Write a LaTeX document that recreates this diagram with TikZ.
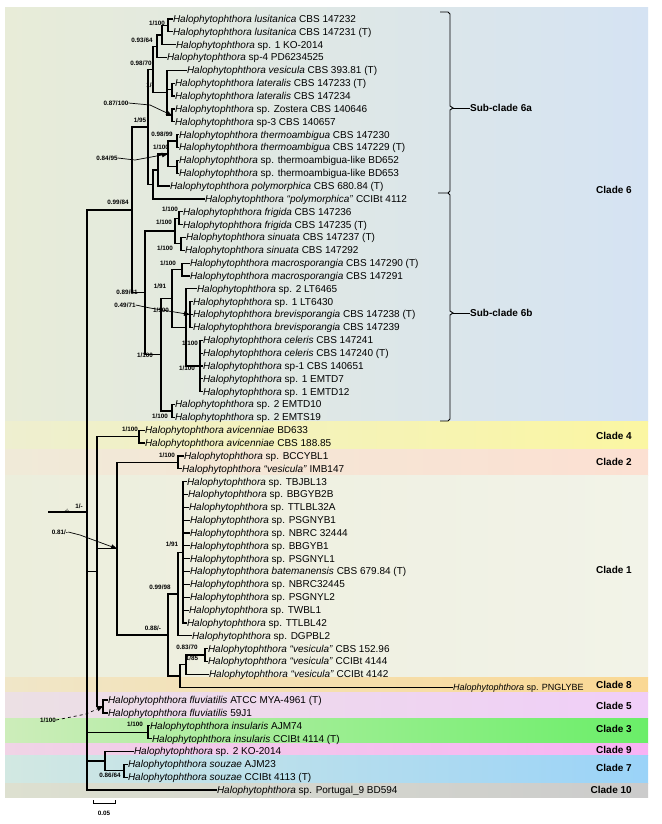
\documentclass[tikz,border=0pt]{standalone}
\usepackage{fontspec}
\setmainfont{Liberation Sans}
\usetikzlibrary{arrows.meta}
\definecolor{c6l}{HTML}{E8ECD8}\definecolor{c6r}{HTML}{D5E3F3}
\definecolor{c4l}{HTML}{EEEFD0}\definecolor{c4r}{HTML}{FBF6A2}
\definecolor{c2l}{HTML}{F0EAD8}\definecolor{c2r}{HTML}{FCE0D2}
\definecolor{c1l}{HTML}{ECEEDC}\definecolor{c1r}{HTML}{F2F3E8}
\definecolor{c8l}{HTML}{F0E6C8}\definecolor{c8r}{HTML}{FAD894}
\definecolor{c5l}{HTML}{ECE0E4}\definecolor{c5r}{HTML}{F0CEF8}
\definecolor{c3l}{HTML}{CDEDBA}\definecolor{c3r}{HTML}{6AEE68}
\definecolor{c9l}{HTML}{F0D4E6}\definecolor{c9r}{HTML}{F8B2F4}
\definecolor{c7l}{HTML}{D2E8E2}\definecolor{c7r}{HTML}{9AD3F8}
\definecolor{c10l}{HTML}{DDE0D0}\definecolor{c10r}{HTML}{CBCBCB}
\newcommand{\Hal}{\textit{Halophytophthora}}
\newcommand{\lf}[4]{\node[leaf] (#1) at (#2,{19+12.85*#3}) {#4};}
\newcommand{\E}[2]{\draw[br] (#1) |- (#2);}
\newcommand{\EL}[2]{\draw[br] (#1) |- (#2.west);}
\begin{document}
\begin{tikzpicture}[x=1pt,y=-1pt,
  br/.style={line width=1.2pt,line cap=rect},
  leaf/.style={anchor=west,inner sep=0.8pt,font=\fontsize{10}{12}\selectfont,text height=7.2pt,text depth=0.4pt},
  sup/.style={font=\bfseries\fontsize{6.3}{7}\selectfont,inner sep=0pt},
  cl/.style={font=\bfseries\fontsize{10}{12}\selectfont,anchor=east,inner sep=0pt},
  lead/.style={line width=0.7pt,-{Triangle[length=6pt,width=4.5pt]}},
  brace/.style={line width=0.9pt}]
\useasboundingbox (0,0) rectangle (661,824);
\fill[white] (0,0) rectangle (661,824);
% bands
\shade[left color=c6l,right color=c6r] (5,8) rectangle (648,421);
\shade[left color=c4l,right color=c4r] (5,421) rectangle (648,449);
\shade[left color=c2l,right color=c2r] (5,449) rectangle (648,475);
\shade[left color=c1l,right color=c1r] (5,475) rectangle (648,677);
\shade[left color=c8l,right color=c8r] (5,677) rectangle (648,692);
\shade[left color=c5l,right color=c5r] (5,692) rectangle (648,718);
\shade[left color=c3l,right color=c3r] (5,718) rectangle (648,743);
\shade[left color=c9l,right color=c9r] (5,743) rectangle (648,755);
\shade[left color=c7l,right color=c7r] (5,755) rectangle (648,783);
\shade[left color=c10l,right color=c10r] (5,783) rectangle (648,797);
% leaves
\lf{l0}{172}{0}{\textit{Halophytophthora lusitanica} CBS 147232}
\lf{l1}{172}{1}{\textit{Halophytophthora lusitanica} CBS 147231 (T)}
\lf{l2}{175}{2}{\Hal{} sp. 1 KO-2014}
\lf{l3}{166}{3}{\Hal{} sp-4 PD6234525}
\lf{l4}{186}{4}{\textit{Halophytophthora vesicula} CBS 393.81 (T)}
\lf{l5}{174}{5}{\textit{Halophytophthora lateralis} CBS 147233 (T)}
\lf{l6}{174}{6}{\textit{Halophytophthora lateralis} CBS 147234}
\lf{l7}{174}{7}{\Hal{} sp. Zostera CBS 140646}
\lf{l8}{174}{8}{\Hal{} sp-3 CBS 140657}
\lf{l9}{178}{9}{\textit{Halophytophthora thermoambigua} CBS 147230}
\lf{l10}{178}{10}{\textit{Halophytophthora thermoambigua} CBS 147229 (T)}
\lf{l11}{178}{11}{\Hal{} sp. thermoambigua-like BD652}
\lf{l12}{178}{12}{\Hal{} sp. thermoambigua-like BD653}
\lf{l13}{169}{13}{\textit{Halophytophthora polymorphica} CBS 680.84 (T)}
\lf{l14}{204}{14}{\textit{Halophytophthora “polymorphica”} CCIBt 4112}
\lf{l15}{182}{15}{\textit{Halophytophthora frigida} CBS 147236}
\lf{l16}{182}{16}{\textit{Halophytophthora frigida} CBS 147235 (T)}
\lf{l17}{185}{17}{\textit{Halophytophthora sinuata} CBS 147237 (T)}
\lf{l18}{184}{18}{\textit{Halophytophthora sinuata} CBS 147292}
\lf{l19}{189}{19}{\textit{Halophytophthora macrosporangia} CBS 147290 (T)}
\lf{l20}{189}{20}{\textit{Halophytophthora macrosporangia} CBS 147291}
\lf{l21}{196}{21}{\Hal{} sp. 2 LT6465}
\lf{l22}{192}{22}{\Hal{} sp. 1 LT6430}
\lf{l23}{192}{23}{\textit{Halophytophthora brevisporangia} CBS 147238 (T)}
\lf{l24}{192}{24}{\textit{Halophytophthora brevisporangia} CBS 147239}
\lf{l25}{202}{25}{\textit{Halophytophthora celeris} CBS 147241}
\lf{l26}{202}{26}{\textit{Halophytophthora celeris} CBS 147240 (T)}
\lf{l27}{202}{27}{\Hal{} sp-1 CBS 140651}
\lf{l28}{202}{28}{\Hal{} sp. 1 EMTD7}
\lf{l29}{202}{29}{\Hal{} sp. 1 EMTD12}
\lf{l30}{174}{30}{\Hal{} sp. 2 EMTD10}
\lf{l31}{174}{31}{\Hal{} sp. 2 EMTS19}
\lf{l32}{144}{32}{\textit{Halophytophthora avicenniae} BD633}
\lf{l33}{144}{33}{\textit{Halophytophthora avicenniae} CBS 188.85}
\lf{l34}{183}{34}{\Hal{} sp. BCCYBL1}
\lf{l35}{181}{35}{\textit{Halophytophthora “vesicula”} IMB147}
\lf{l36}{186}{36}{\Hal{} sp. TBJBL13}
\lf{l37}{187}{37}{\Hal{} sp. BBGYB2B}
\lf{l38}{188}{38}{\Hal{} sp. TTLBL32A}
\lf{l39}{189}{39}{\Hal{} sp. PSGNYB1}
\lf{l40}{189}{40}{\Hal{} sp. NBRC 32444}
\lf{l41}{189}{41}{\Hal{} sp. BBGYB1}
\lf{l42}{189}{42}{\Hal{} sp. PSGNYL1}
\lf{l43}{189}{43}{\textit{Halophytophthora batemanensis} CBS 679.84 (T)}
\lf{l44}{189}{44}{\Hal{} sp. NBRC32445}
\lf{l45}{189}{45}{\Hal{} sp. PSGNYL2}
\lf{l46}{188}{46}{\Hal{} sp. TWBL1}
\lf{l47}{186}{47}{\Hal{} sp. TTLBL42}
\lf{l48}{191}{48}{\Hal{} sp. DGPBL2}
\lf{l49}{207}{49}{\textit{Halophytophthora “vesicula”} CBS 152.96}
\lf{l50}{207}{50}{\textit{Halophytophthora “vesicula”} CCIBt 4144}
\lf{l51}{208}{51}{\textit{Halophytophthora “vesicula”} CCIBt 4142}
\node[leaf,font=\fontsize{9}{11}\selectfont] (l52) at (452,{19+12.85*52}) {\Hal{} sp. PNGLYBE};
\lf{l53}{107}{53}{\textit{Halophytophthora fluviatilis} ATCC MYA-4961 (T)}
\lf{l54}{107}{54}{\textit{Halophytophthora fluviatilis} 59J1}
\lf{l55}{149}{55}{\textit{Halophytophthora insularis} AJM74}
\lf{l56}{151}{56}{\textit{Halophytophthora insularis} CCIBt 4114 (T)}
\lf{l57}{133}{57}{\Hal{} sp. 2 KO-2014}
\lf{l58}{127}{58}{\textit{Halophytophthora souzae} AJM23}
\lf{l59}{127}{59}{\textit{Halophytophthora souzae} CCIBt 4113 (T)}
\lf{l60}{216}{60}{\Hal{} sp. Portugal\_9 BD594}
% internal nodes
\coordinate (n1) at (168,25.43);
\coordinate (n2) at (162,35.06);
\coordinate (n3) at (157,46.3);
\coordinate (n5) at (172,89.68);
\coordinate (n6) at (172,115.38);
\coordinate (n4) at (167,92.89);
\coordinate (nG) at (153,69.6);
\coordinate (nTa) at (177,141.08);
\coordinate (nTb) at (177,166.78);
\coordinate (nT) at (168,153.93);
\coordinate (n11) at (158,170);
\coordinate (n10) at (153,184.45);
\coordinate (N6a) at (148,127.03);
\coordinate (nFr) at (179,218.18);
\coordinate (nSi) at (181,243.88);
\coordinate (nFS) at (175,231.03);
\coordinate (nM) at (182,269.58);
\coordinate (nBr) at (190,314.55);
\coordinate (nC) at (200,365.95);
\coordinate (nL) at (186,327.4);
\coordinate (nML) at (172,298.49);
\coordinate (nE) at (172,410.93);
\coordinate (nX) at (161,354.71);
\coordinate (N6b) at (145,292.87);
\coordinate (C6) at (132,209.95);
\coordinate (n4c) at (139,436.63);
\coordinate (n2c) at (178,462.33);
\coordinate (nP) at (183,552.28);
\coordinate (n178) at (178,594.04);
\coordinate (nVa) at (205,655.08);
\coordinate (nV) at (186,664.71);
\coordinate (nV8) at (180,675.96);
\coordinate (nC18) at (168,635.0);
\coordinate (B) at (117,548.67);
\coordinate (n5c) at (103,706.48);
\coordinate (A) at (97,571.55);
\coordinate (n3c) at (148,732.18);
\coordinate (n7c) at (124,770.73);
\coordinate (n97) at (105,761.09);
\coordinate (root) at (87,512);
\coordinate (rootin) at (49,512);
% branches
\EL{n1}{l0}\EL{n1}{l1}
\E{n2}{n1}\EL{n2}{l2}
\E{n3}{n2}\EL{n3}{l3}
\EL{n5}{l5}\EL{n5}{l6}
\EL{n6}{l7}\EL{n6}{l8}
\EL{n4}{l4}\E{n4}{n5}\E{n4}{n6}
\E{nG}{n3}\E{nG}{n4}
\EL{nTa}{l9}\EL{nTa}{l10}
\EL{nTb}{l11}\EL{nTb}{l12}
\E{nT}{nTa}\E{nT}{nTb}
\E{n11}{nT}\EL{n11}{l13}
\E{n10}{n11}\EL{n10}{l14}
\E{N6a}{nG}\E{N6a}{n10}
\EL{nFr}{l15}\EL{nFr}{l16}
\EL{nSi}{l17}\EL{nSi}{l18}
\E{nFS}{nFr}\E{nFS}{nSi}
\EL{nM}{l19}\EL{nM}{l20}
\foreach \c in {l22,l23,l24} {\EL{nBr}{\c}}
\foreach \c in {l25,l26,l27,l28,l29} {\EL{nC}{\c}}
\EL{nL}{l21}\E{nL}{nBr}\E{nL}{nC}
\E{nML}{nM}\E{nML}{nL}
\EL{nE}{l30}\EL{nE}{l31}
\E{nX}{nML}\E{nX}{nE}
\E{N6b}{nFS}\E{N6b}{nX}
\E{C6}{N6a}\E{C6}{N6b}
\EL{n4c}{l32}\EL{n4c}{l33}
\EL{n2c}{l34}\EL{n2c}{l35}
\foreach \c in {l36,l37,l38,l39,l40,l41,l42,l43,l44,l45,l46,l47} {\EL{nP}{\c}}
\E{n178}{nP}\EL{n178}{l48}
\EL{nVa}{l49}\EL{nVa}{l50}
\E{nV}{nVa}\EL{nV}{l51}
\E{nV8}{nV}\EL{nV8}{l52}
\E{nC18}{n178}\E{nC18}{nV8}
\E{B}{n2c}\E{B}{nC18}
\EL{n5c}{l53}\EL{n5c}{l54}
\E{A}{n4c}\E{A}{B}\E{A}{n5c}
\EL{n3c}{l55}\EL{n3c}{l56}
\EL{n7c}{l58}\EL{n7c}{l59}
\EL{n97}{l57}\E{n97}{n7c}
\E{root}{C6}\E{root}{A}\E{root}{n3c}\E{root}{n97}\EL{root}{l60}
\draw[br] (rootin) -- (root);
% support values
\node[sup] (s1) at (157,23) {1/100};
\node[sup] (s2) at (142,40) {0.93/64};
\node[sup] (s3) at (141,63) {0.98/70};
\node[sup] (s4) at (150,85) {1/-};
\node[sup] (s5) at (116,103) {0.87/100};
\node[sup] (s6) at (140,120) {1/95};
\node[sup] (s7) at (162,134) {0.98/99};
\node[sup] (s8) at (161,147) {1/100};
\node[sup] (s9) at (107,158) {0.84/95};
\node[sup] (s10) at (118,202) {0.99/84};
\node[sup] (s11) at (170,209) {1/100};
\node[sup] (s12) at (164,222) {1/100};
\node[sup] (s13) at (165,248) {1/100};
\node[sup] (s14) at (168,263) {1/100};
\node[sup] (s15) at (160,286) {1/91};
\node[sup] (s16) at (127,292) {0.89/61};
\node[sup] (s17) at (125,305) {0.49/71};
\node[sup] (s18) at (161,310) {1/100};
\node[sup] (s19) at (190,343) {1/100};
\node[sup] (s20) at (145,355) {1/100};
\node[sup] (s21) at (187,368) {1/100};
\node[sup] (s22) at (160,416) {1/100};
\node[sup] (s23) at (130,429) {1/100};
\node[sup] (s24) at (167,455) {1/100};
\node[sup] (s25) at (172,544) {1/91};
\node[sup] (s26) at (160,587) {0.99/98};
\node[sup] (s27) at (153,628) {0.88/-};
\node[sup] (s28) at (187,647) {0.83/70};
\node[sup] (s29) at (192,658) {1/85};
\node[sup] (s30) at (60,532) {0.81/-};
\node[sup] (s31) at (79,506) {1/-};
\node[sup,font=\bfseries\fontsize{4.5}{5}\selectfont] (s32) at (67,511) {-/-};
\node[sup] (s33) at (48,720) {1/100};
\node[sup] (s34) at (135,724) {1/100};
\node[sup] (s35) at (110,775) {0.86/64};
% leader arrows
\draw[lead] (s5.east) -- (150,105) -- (n6);
\draw[lead] (s9.east) -- (135,160) -- (nT);
\draw[lead] (s17.east) -- (150,308) -- (nBr);
\draw[lead] (s30.east) -- (80,535) -- (B);
\draw[lead,dashed] (s33.east) -- (86,714) -- (n5c);
% sub-clade braces
\node[cl,anchor=west] (sa) at (470,108) {Sub-clade 6a};
\node[cl,anchor=west] (sb) at (470,313) {Sub-clade 6b};
\draw[brace] (440,12) -- (448,12) -- (450,14) -- (450,106) -- (453,108) -- (450,110) -- (450,191) -- (448,193) -- (438,193);
\draw[brace] (448,193) -- (450,195) -- (450,311) -- (453,313) -- (450,315) -- (450,419) -- (448,421) -- (440,421);
\draw[brace] (453,108) -- (sa.west);
\draw[brace] (453,313) -- (sb.west);
% clade labels
\node[cl] (k6) at (632,190) {Clade 6};
\node[cl] (k4) at (632,436) {Clade 4};
\node[cl] (k2) at (632,462) {Clade 2};
\node[cl] (k1) at (632,570) {Clade 1};
\node[cl] (k8) at (632,685) {Clade 8};
\node[cl] (k5) at (632,706) {Clade 5};
\node[cl] (k3) at (632,729) {Clade 3};
\node[cl] (k9) at (632,750) {Clade 9};
\node[cl] (k7) at (632,768) {Clade 7};
\node[cl] (k10) at (632,790) {Clade 10};
% scale bar
\draw[line width=0.9pt] (93,800) -- (93,803) -- (115,803) -- (115,800);
\node[sup] (sc) at (104,813) {0.05};
\end{tikzpicture}
\end{document}
